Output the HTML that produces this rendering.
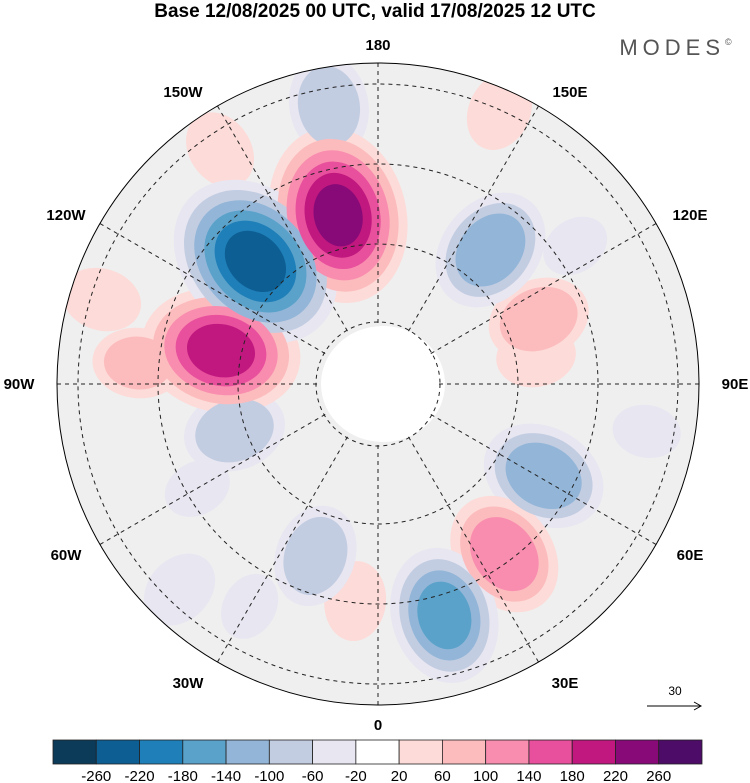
<!DOCTYPE html>
<html><head><meta charset="utf-8"><style>
body{margin:0;background:#fff;width:750px;height:783px;overflow:hidden;font-family:"Liberation Sans",sans-serif}
svg{display:block}
</style></head><body>
<svg id="chart" width="750" height="783">
<text x="375" y="17" text-anchor="middle" font-size="19" font-weight="bold">Base 12/08/2025 00 UTC, valid 17/08/2025 12 UTC</text>
<text x="678" y="55" text-anchor="middle" font-size="22" fill="#555" letter-spacing="5">MODES<tspan font-size="9" dy="-10">©</tspan></text>
<defs><clipPath id="disc"><circle cx="378" cy="384" r="321"/></clipPath></defs>
<g id="map" clip-path="url(#disc)"></g>
<g id="grid"></g>
<circle cx="378" cy="384" r="321" fill="none" stroke="#000" stroke-width="1"/>
<g id="labels" font-size="15" font-weight="bold" text-anchor="middle"></g>
<text x="675" y="695" text-anchor="middle" font-size="12">30</text>
<line x1="647" y1="706" x2="700" y2="706" stroke="#000"/>
<path d="M694,702 L701,706 L694,710" fill="none" stroke="#000"/>
<g id="cbar"></g>
</svg>
<script>
const levelColors=["#0b3b58","#0d5e93","#1f7fb8","#5aa2ca","#93b6d8","#c3cde2","#e8e6f1","#ffffff","#fddbd8","#fcbcbd","#f98daf","#e84f9c","#c0187f","#870a78","#4d0c68"];
const levelTicks=[-260,-220,-180,-140,-100,-60,-20,20,60,100,140,180,220,260];
// anomaly centres: longitude (deg, E positive), radial fraction, value
const blobLon=[-107,-146,156,-44,-6,-135,-166.7,-102,140,112,61,36.6,16,-72,-20,-170,125,-60,80,-95,100,-30];
const blobR=[0.9,0.88,0.93,0.89,0.68,0.54,0.54,0.5,0.545,0.54,0.59,0.66,0.75,0.47,0.57,0.88,0.75,0.65,0.85,0.75,0.5,0.8];
const blobVal=[60,60,60,-60,60,-240,230,200,-140,100,-140,140,-160,-100,-100,-100,-40,-40,-40,80,60,-40];
const cx=378,cy=384,R=321,NS="http://www.w3.org/2000/svg";
function mk(t,a,p){const e=document.createElementNS(NS,t);for(const k in a)e.setAttribute(k,a[k]);p.appendChild(e);return e;}
function px(lon,f){const a=lon*Math.PI/180;return [cx+R*f*Math.sin(a),cy+R*f*Math.cos(a)];}
function colorFor(v){let i=0;while(i<levelTicks.length&&v>levelTicks[i])i++;return levelColors[i];}
const map=document.getElementById('map');
const bg=mk('circle',{cx:cx,cy:cy,r:R,fill:"#efefef"},map);


const pole=mk('ellipse',{cx:cx+5,cy:cy,rx:62,ry:58,fill:"#fff"},map);


const order=blobVal.map((v,i)=>i).sort((a,b)=>Math.abs(blobVal[a])-Math.abs(blobVal[b]));
const maxT=260;
for(let t=20;t<maxT;t+=40){
  order.forEach(i=>{
    const v=blobVal[i],m=Math.abs(v),s=Math.sign(v);
    if(t>=m)return;
    const [x,y]=px(blobLon[i],blobR[i]);
    const r=22+(m-t)*0.22;
    const el=mk('ellipse',{cx:x,cy:y,rx:r*1.3,ry:r,fill:colorFor(s*(t+1)),transform:`rotate(${90-blobLon[i]} ${x} ${y})`},map);
    
    
  });
}
const grid=document.getElementById('grid');
[62,140,220,300].forEach(r=>{const c=mk('circle',{cx:cx,cy:cy,r:r,fill:"none",stroke:"#222","stroke-dasharray":"4 4","stroke-width":1},grid);

});
for(let lon=0;lon<360;lon+=30){const [x1,y1]=px(lon,0.19);const [x2,y2]=px(lon,1);
const l=mk('line',{x1:x1,y1:y1,x2:x2,y2:y2,stroke:"#222","stroke-dasharray":"4 4","stroke-width":1},grid);

}
const labels=[["180",378,50],["150E",570,97],["120E",690,220],["90E",735,389],["60E",690,560],["30E",565,688],["0",378,730],["30W",188,688],["60W",66,560],["90W",19,389],["120W",66,220],["150W",183,97]];
const lg=document.getElementById('labels');
labels.forEach(([t,x,y])=>{const e=mk('text',{x:x,y:y},lg);e.textContent=t;

});
const cb=document.getElementById('cbar');const x0=53,w=(702-53)/levelColors.length;
levelColors.forEach((c,i)=>{const r=mk('rect',{x:x0+i*w,y:740,width:w,height:24,fill:c,stroke:"#222","stroke-width":0.8},cb);

});
levelTicks.forEach((t,i)=>{const e=mk('text',{x:x0+(i+1)*w,y:781,"text-anchor":"middle","font-size":15},cb);e.textContent=t;

});
</script>
</body></html>
